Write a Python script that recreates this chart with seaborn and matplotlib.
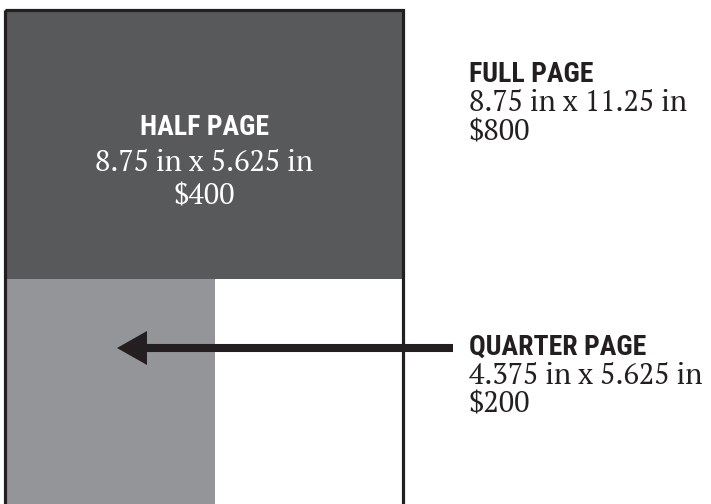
import matplotlib
matplotlib.use("Agg")
import matplotlib.pyplot as plt
import seaborn as sns
from matplotlib.patches import Rectangle, Polygon

sns.set_theme(style="white")

# ad sizes
AD_NAMES = ["FULL PAGE", "HALF PAGE", "QUARTER PAGE"]
AD_SIZES = ["8.75 in x 11.25 in", "8.75 in x 5.625 in", "4.375 in x 5.625 in"]
AD_PRICES = ["$800", "$400", "$200"]

INK = "#231f20"
DARK = "#58595b"
LIGHT = "#939598"

TITLE_FONT = ["Roboto Condensed", "Barlow Condensed", "DejaVu Sans"]
BODY_FONT = ["PT Serif", "Liberation Serif", "DejaVu Serif"]

fig = plt.figure(figsize=(7.11, 5.04), dpi=100)
ax = fig.add_axes([0, 0, 1, 1])
ax.set_xlim(0, 711)
ax.set_ylim(504, 0)
ax.axis("off")

# page blocks (pixel layout)
ax.add_patch(Rectangle((5, 10), 398, 269, facecolor=DARK, edgecolor="none"))
ax.add_patch(Rectangle((5, 279), 210, 260, facecolor=LIGHT, edgecolor="none"))
ax.add_patch(Rectangle((5, 10), 398, 530, facecolor="none", edgecolor=INK, lw=2.3))

# arrow to quarter page
ax.plot([140, 453], [348, 348], color=INK, lw=5.8, solid_capstyle="butt")
ax.add_patch(Polygon([(117, 348), (147, 331), (147, 365)], closed=True,
                     facecolor=INK, edgecolor="none"))


def label(x, ys, i, color, ha):
    ax.text(x, ys[0], AD_NAMES[i], family=TITLE_FONT, fontweight="bold",
            fontsize=20, color=color, ha=ha, va="baseline")
    ax.text(x, ys[1], AD_SIZES[i], family=BODY_FONT, fontsize=20.8,
            color=color, ha=ha, va="baseline")
    ax.text(x, ys[2], AD_PRICES[i], family=BODY_FONT, fontsize=20.8,
            color=color, ha=ha, va="baseline")


label(469, [82, 111, 140], 0, INK, "left")
label(204, [135, 171, 205], 1, "white", "center")
label(469, [355, 384, 413], 2, INK, "left")

fig.savefig("out.png", dpi=100)
